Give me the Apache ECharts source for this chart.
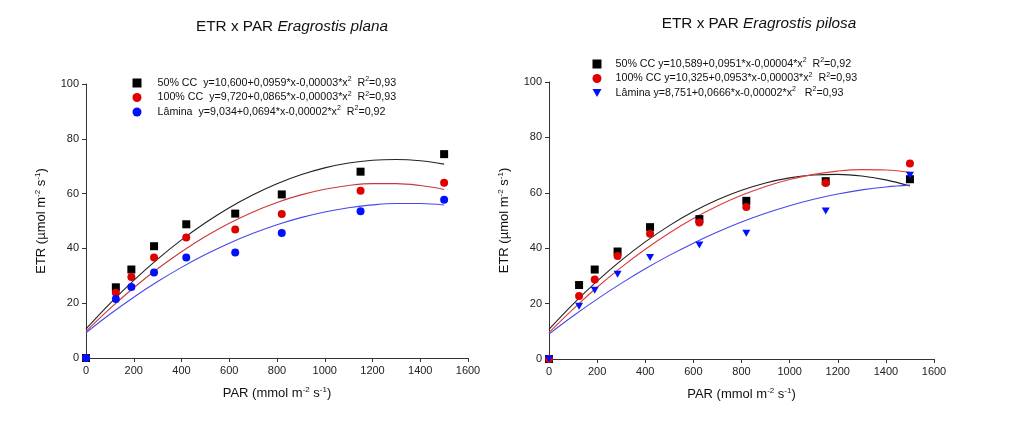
<!DOCTYPE html>
<html>
<head>
<meta charset="utf-8">
<script src="https://cdn.jsdelivr.net/npm/echarts@6/dist/echarts.min.js"></script>
<style>
html,body{margin:0;padding:0;background:#fff;}
#c{width:1029px;height:422px;}
</style>
</head>
<body>
<div id="c"></div>
<script>
// ---------- data ----------
const parValues = [0, 125, 190, 285, 420, 625, 820, 1150, 1500];

// Eragrostis plana (left)
const planaCC50  = [0, 25.8, 32.3, 40.8, 48.8, 52.7, 59.7, 68.0, 74.4];
const planaCC100 = [0, 23.8, 29.6, 36.7, 44.0, 46.9, 52.6, 61.0, 64.0];
const planaLamina= [0, 21.5, 25.9, 31.2, 36.7, 38.5, 45.6, 53.6, 57.8];

// Eragrostis pilosa (right)
const pilosaCC50  = [0, 26.7, 32.3, 38.8, 47.6, 50.5, 57.1, 64.2, 64.9];
const pilosaCC100 = [0, 22.7, 28.7, 37.2, 45.2, 49.3, 54.9, 63.5, 70.6];
const pilosaLamina= [0, 19.0, 24.8, 30.6, 36.6, 41.2, 45.4, 53.4, 66.3];

// fitted curves
const curveX = [0,100,200,300,400,500,600,700,800,900,1000,1100,1200,1300,1400,1500];
const planaFitCC50   = [10.6,19.85,28.34,36.09,43.10,49.35,54.86,59.61,63.62,66.89,69.40,71.17,72.18,72.45,71.98,70.75];
const planaFitCC100  = [9.7,18.01,25.63,32.56,38.79,44.33,49.17,53.32,56.77,59.53,61.60,62.97,63.65,63.64,62.93,61.52];
const planaFitLamina = [9.2,15.95,22.18,27.89,33.08,37.75,41.90,45.53,48.64,51.23,53.30,54.85,55.88,56.39,56.38,55.85];
const pilosaFitCC50  = [10.7,19.81,28.10,35.59,42.28,48.15,53.22,57.47,60.92,63.57,65.40,66.43,66.64,66.05,64.66,62.45];
const pilosaFitCC100 = [9.5,18.04,25.90,33.10,39.64,45.50,50.70,55.22,59.08,62.28,64.80,66.66,67.84,68.36,68.22,67.40];
const pilosaFitLamina= [9.0,15.52,21.62,27.30,32.57,37.41,41.83,45.83,49.42,52.58,55.33,57.66,59.56,61.05,62.12,62.77];

const xTicks = {min: 0, max: 1600, interval: 200};
const yTicks = {min: 0, max: 100, interval: 20};

const planaLegend = {
  'E. plana 50% CC':  '50% CC  y=10,600+0,0959*x-0,00003*x{s|2}  R{s|2}=0,93',
  'E. plana 100% CC': '100% CC  y=9,720+0,0865*x-0,00003*x{s|2}  R{s|2}=0,93',
  'E. plana Lâmina':  'Lâmina  y=9,034+0,0694*x-0,00002*x{s|2}  R{s|2}=0,92'
};
const pilosaLegend = {
  'E. pilosa 50% CC':  '50% CC y=10,589+0,0951*x-0,00004*x{s|2}  R{s|2}=0,92',
  'E. pilosa 100% CC': '100% CC y=10,325+0,0953*x-0,00003*x{s|2}  R{s|2}=0,93',
  'E. pilosa Lâmina':  'Lâmina y=8,751+0,0666*x-0,00002*x{s|2}   R{s|2}=0,93'
};

// ---------- helpers ----------
const FONT = '"Liberation Sans", Arial, sans-serif';
const BLACK = '#000000', RED = '#e00000', BLUE = '#0010ff';
const LBLACK = '#222222', LRED = '#c83a3a', LBLUE = '#4848e8';
const DOWN_TRI = 'path://M0,0 L10,0 L5,9 Z';

function pairs(xs, ys){ return xs.map((x,i)=>[x, ys[i]]); }

function scatter(name, idx, ys, color, symbol, size){
  return {type:'scatter', name, xAxisIndex:idx, yAxisIndex:idx, data:pairs(parValues, ys),
    symbol, symbolSize:size, itemStyle:{color, opacity:1}, clip:false, z:3};
}
function curve(name, idx, ys, color){
  return {type:'line', name, xAxisIndex:idx, yAxisIndex:idx, data:pairs(curveX, ys),
    smooth:0.4, showSymbol:false, symbol:'none', lineStyle:{color, width:1.1}, z:2, silent:true};
}
const supRich = {
  t:{fontSize:10.7, fontFamily:FONT, color:'#111', lineHeight:14},
  s:{fontSize:7, fontFamily:FONT, color:'#111', verticalAlign:'bottom', padding:[0,0,7,0], lineHeight:14},
  p:{width:0}
};
const nameRich = {t:{fontSize:13, fontFamily:FONT, color:'#111'}, s:{fontSize:8, fontFamily:FONT, color:'#111', padding:[0,0,7,0]}};
function xAxis(idx){
  return {type:'value', gridIndex:idx, min:xTicks.min, max:xTicks.max, interval:xTicks.interval,
    name:'{t|PAR (mmol m}{s|-2}{t| s}{s|-1}{t|)}', nameLocation:'middle', nameGap:28,
    nameTextStyle:{rich:nameRich},
    axisLine:{show:true, onZero:false, lineStyle:{color:'#333', width:1}},
    axisTick:{show:true, inside:false, length:4, lineStyle:{color:'#333'}},
    axisLabel:{fontSize:11, fontFamily:FONT, color:'#222', margin:7, formatter:(v)=>String(v)},
    splitLine:{show:false}};
}
function yAxis(idx){
  return {type:'value', gridIndex:idx, min:yTicks.min, max:yTicks.max, interval:yTicks.interval,
    name:'{t|ETR (µmol m}{s|-2}{t| s}{s|-1}{t|)}', nameLocation:'middle', nameGap:37, nameRotate:90,
    nameTextStyle:{rich:nameRich},
    axisLine:{show:true, onZero:false, lineStyle:{color:'#333', width:1}},
    axisTick:{show:true, inside:false, length:4, lineStyle:{color:'#333'}},
    axisLabel:{fontSize:11, fontFamily:FONT, color:'#222', margin:7, formatter:(v)=>String(v)},
    splitLine:{show:false}};
}
function legend(left, top, map, pad, items){
  return {orient:'vertical', left, top, itemWidth:9, itemHeight:9, itemGap:0.5, padding:0,
    data:items, formatter:(n)=>'{p|}{t|'+map[n].replace(/\{s\|2\}/g,'}{s|2}{t|')+'}',
    textStyle:{rich:Object.assign({}, supRich, {p:{width:pad}})}, selectedMode:false};
}
const titleRich = {n:{fontSize:15.3, fontFamily:FONT, fontWeight:'normal', color:'#111'},
                   i:{fontSize:15.3, fontFamily:FONT, fontWeight:'normal', fontStyle:'italic', color:'#111'}};

const chart = echarts.init(document.getElementById('c'), null, {renderer:'canvas'});
chart.setOption({
  backgroundColor:'#ffffff',
  animation:false,
  title:[
    {text:'{n|ETR x PAR }{i|Eragrostis plana}', left:287, top:14, textAlign:'center',
      textStyle:{fontWeight:'normal', rich:titleRich}},
    {text:'{n|ETR x PAR }{i|Eragrostis pilosa}', left:754, top:11, textAlign:'center',
      textStyle:{fontWeight:'normal', rich:titleRich}}
  ],
  legend:[
    legend(132.5, 76, planaLegend, 11, [
      {name:'E. plana 50% CC', icon:'rect'},
      {name:'E. plana 100% CC', icon:'circle'},
      {name:'E. plana Lâmina', icon:'circle'}]),
    legend(592.5, 57, pilosaLegend, 9, [
      {name:'E. pilosa 50% CC', icon:'rect'},
      {name:'E. pilosa 100% CC', icon:'circle'},
      {name:'E. pilosa Lâmina', icon:DOWN_TRI}])
  ],
  grid:[
    {left:86, top:84, width:382, height:274},
    {left:549, top:82, width:385, height:277}
  ],
  xAxis:[xAxis(0), xAxis(1)],
  yAxis:[yAxis(0), yAxis(1)],
  series:[
    curve('fit plana 50', 0, planaFitCC50, LBLACK),
    curve('fit plana 100', 0, planaFitCC100, LRED),
    curve('fit plana lam', 0, planaFitLamina, LBLUE),
    scatter('E. plana 50% CC', 0, planaCC50, BLACK, 'rect', 8),
    scatter('E. plana 100% CC', 0, planaCC100, RED, 'circle', 8),
    scatter('E. plana Lâmina', 0, planaLamina, BLUE, 'circle', 8),
    curve('fit pilosa 50', 1, pilosaFitCC50, LBLACK),
    curve('fit pilosa 100', 1, pilosaFitCC100, '#e03a3a'),
    curve('fit pilosa lam', 1, pilosaFitLamina, LBLUE),
    scatter('E. pilosa 50% CC', 1, pilosaCC50, BLACK, 'rect', 8),
    scatter('E. pilosa 100% CC', 1, pilosaCC100, RED, 'circle', 8),
    scatter('E. pilosa Lâmina', 1, pilosaLamina, BLUE, DOWN_TRI, [8,7])
  ]
});
</script>
</body>
</html>
